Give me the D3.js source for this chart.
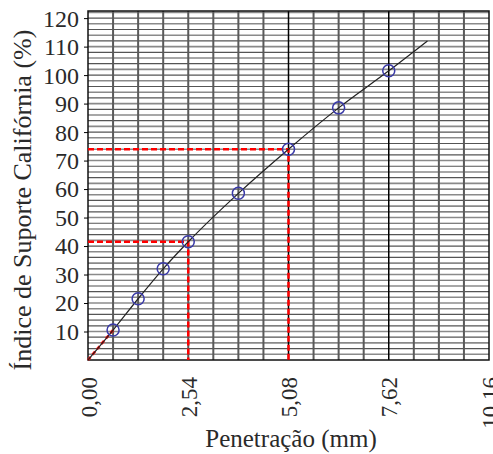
<!DOCTYPE html>
<html>
<head>
<meta charset="utf-8">
<script src="https://cdn.jsdelivr.net/npm/d3@7"></script>
<style>
  body { margin: 0; background: #fff; }
  svg { display: block; }
</style>
</head>
<body>
<div id="chart"></div>
<script>
// penetration (mm) vs CBR (%)
const penetration = [0.635, 1.27, 1.905, 2.54, 3.81, 5.08, 6.35, 7.62];
const cbr = [10.5, 21.5, 32, 41.5, 58.5, 74, 88.5, 101.5];
// fitted curve (start and end added)
const curvePen = [0, 0.635, 1.27, 1.905, 2.54, 3.81, 5.08, 6.35, 7.62, 8.6];
const curveCbr = [0, 10.5, 21.5, 32, 41.5, 58.5, 74, 88.5, 101.5, 112];
const xTicks = [0, 2.54, 5.08, 7.62, 10.16];
const xTickLabels = ['0,00', '2,54', '5,08', '7,62', '10,16'];
const yTicks = [10, 20, 30, 40, 50, 60, 70, 80, 90, 100, 110, 120];
const readings = [2.54, 5.08];

const FONT = '"Liberation Serif", "Times New Roman", serif';
const width = 493, height = 454;
const margin = {top: 11, right: 4, bottom: 94, left: 88};

const svg = d3.select('#chart').append('svg')
  .attr('width', width)
  .attr('height', height);

const x = d3.scaleLinear().domain([0, 10.16]).range([margin.left, width - margin.right]);
const y = d3.scaleLinear().domain([0, 122.5]).range([height - margin.bottom, margin.top]);

const g = svg.append('g');

// horizontal grid, every 2 units
const hLines = d3.range(2, 123, 2);
g.selectAll('.hgrid').data(hLines).enter().append('line')
  .attr('x1', x(0)).attr('x2', x(10.16))
  .attr('y1', d => y(d)).attr('y2', d => y(d))
  .attr('stroke', (d, i) => i % 2 ? '#555' : '#8a8a8a')
  .attr('stroke-width', (d, i) => i % 2 ? 1.2 : 1.6);

// vertical grid, every 0.635 mm
const vLines = d3.range(1, 16).map(i => i * 0.635);
g.selectAll('.vgrid').data(vLines).enter().append('line')
  .attr('x1', d => x(d)).attr('x2', d => x(d))
  .attr('y1', y.range()[0]).attr('y2', margin.top)
  .attr('stroke', (d, i) => (i === 7 || i === 11) ? '#000' : '#5a5a5a')
  .attr('stroke-width', (d, i) => (i === 7 || i === 11) ? 1.5 : 2);

// frame
g.append('rect')
  .attr('x', x(0)).attr('y', margin.top)
  .attr('width', x(10.16) - x(0))
  .attr('height', y(0) - margin.top)
  .attr('fill', 'none').attr('stroke', '#111').attr('stroke-width', 1.5);

// red reading lines
readings.forEach(function (p) {
  let v = cbr[penetration.indexOf(p)];
  g.append('path')
    .attr('d', `M${x(0)},${y(v)}H${x(p)}V${y(0)}`)
    .attr('fill', 'none')
    .attr('stroke', '#ff0000')
    .attr('stroke-width', 2.5)
    .attr('stroke-dasharray', '6,3');
});
g.append('line')
  .attr('x1', x(0)).attr('y1', y(0))
  .attr('x2', x(penetration[0])).attr('y2', y(cbr[0]))
  .attr('stroke', '#ff0000').attr('stroke-width', 2.5).attr('stroke-dasharray', '4,3');

// fitted curve
const line = d3.line()
  .x((d, i) => x(curvePen[i]))
  .y((d, i) => y(curveCbr[i]))
  .curve(d3.curveMonotoneX);
g.append('path')
  .datum(curvePen)
  .attr('d', line)
  .attr('fill', 'none')
  .attr('stroke', '#222')
  .attr('stroke-width', 1.2);

// data points
g.selectAll('.pt').data(penetration).enter().append('circle')
  .attr('cx', d => x(d))
  .attr('cy', (d, i) => y(cbr[i]))
  .attr('r', 6)
  .attr('fill', 'none')
  .attr('stroke', '#3a3aa8')
  .attr('stroke-width', 1.5);

// y axis
const yAxis = d3.axisLeft(y).tickValues(yTicks).tickSize(4).tickFormat(d3.format('d'));
const ya = svg.append('g').attr('transform', `translate(${x(0)},0)`).call(yAxis);
ya.select('.domain').remove();
ya.selectAll('text')
  .style('font-family', FONT)
  .style('font-size', '24px')
  .attr('fill', '#2a2a2a')
  .attr('x', -9)
  .attr('dy', '0.33em');

// x axis
const xAxis = d3.axisBottom(x).tickValues(xTicks).tickSize(0).tickFormat((d, i) => xTickLabels[i]);
const xa = svg.append('g').attr('transform', `translate(0,${y(0)})`).call(xAxis);
xa.select('.domain').remove();
xa.selectAll('text')
  .style('font-family', FONT)
  .style('font-size', '23px')
  .attr('fill', '#2a2a2a')
  .attr('transform', 'rotate(-90)')
  .attr('text-anchor', 'end')
  .attr('x', -17)
  .attr('y', 0)
  .attr('dy', '0.35em');

// titles
svg.append('text')
  .attr('x', 291).attr('y', 447)
  .attr('text-anchor', 'middle')
  .style('font-family', FONT)
  .style('font-size', '25px')
  .attr('fill', '#2a2a2a')
  .text('Penetração (mm)');

svg.append('text')
  .attr('transform', 'translate(31,200) rotate(-90)')
  .attr('text-anchor', 'middle')
  .style('font-family', FONT)
  .style('font-size', '26px')
  .attr('fill', '#2a2a2a')
  .text('Índice de Suporte Califórnia (%)');
</script>
</body>
</html>
